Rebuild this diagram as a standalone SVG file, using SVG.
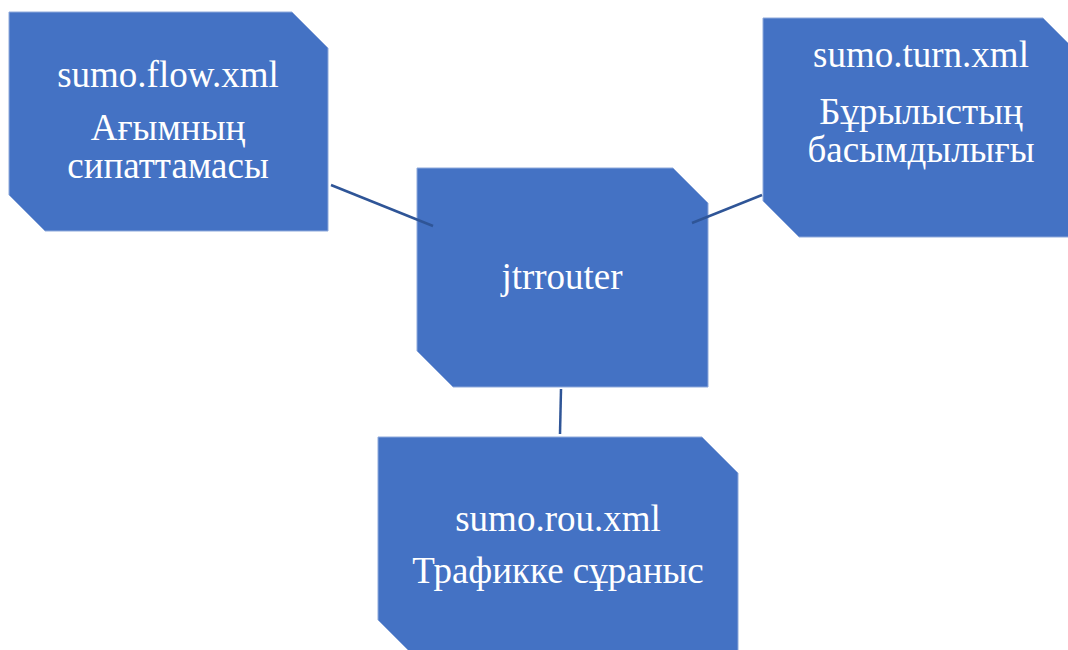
<svg xmlns="http://www.w3.org/2000/svg" width="1068" height="650" viewBox="0 0 1068 650">
<style>
.node{fill:#4472C4;stroke:#8EA9DB;stroke-width:1}
.t{font-family:"Liberation Serif","Times New Roman",serif;font-size:37px;fill:#FFFFFF;text-anchor:middle}
.c{stroke:#2F5597;stroke-width:2.5;fill:none}
</style>
<rect width="1068" height="650" fill="#FFFFFF"/>
<g id="node-flow">
<path class="node" d="M9,12 H292 L328,48 V231 H45 L9,195 Z"/>
<text class="t" x="168" y="87">sumo.flow.xml</text>
<text class="t" x="168" y="140">Ағымның</text>
<text class="t" x="168" y="178">сипаттамасы</text>
</g>
<g id="node-jtrrouter">
<path class="node" d="M417,168 H673 L708,203 V387 H453 L417,351 Z"/>
<text class="t" x="562" y="289">jtrrouter</text>
</g>
<g id="node-turn">
<path class="node" d="M763,18 H1043 L1079,54 V237 H799 L763,201 Z"/>
<text class="t" x="921" y="67">sumo.turn.xml</text>
<text class="t" x="921" y="124">Бұрылыстың</text>
<text class="t" x="921" y="162">басымдылығы</text>
</g>
<g id="node-rou">
<path class="node" d="M378,437 H702 L738,473 V656 H414 L378,620 Z"/>
<text class="t" x="558" y="531">sumo.rou.xml</text>
<text class="t" x="558" y="583">Трафикке сұраныс</text>
</g>
<g id="connectors">
<line class="c" x1="331" y1="185" x2="433" y2="226"/>
<line class="c" x1="692" y1="223" x2="762" y2="195"/>
<line class="c" x1="561" y1="389" x2="560" y2="434"/>
</g>
</svg>
